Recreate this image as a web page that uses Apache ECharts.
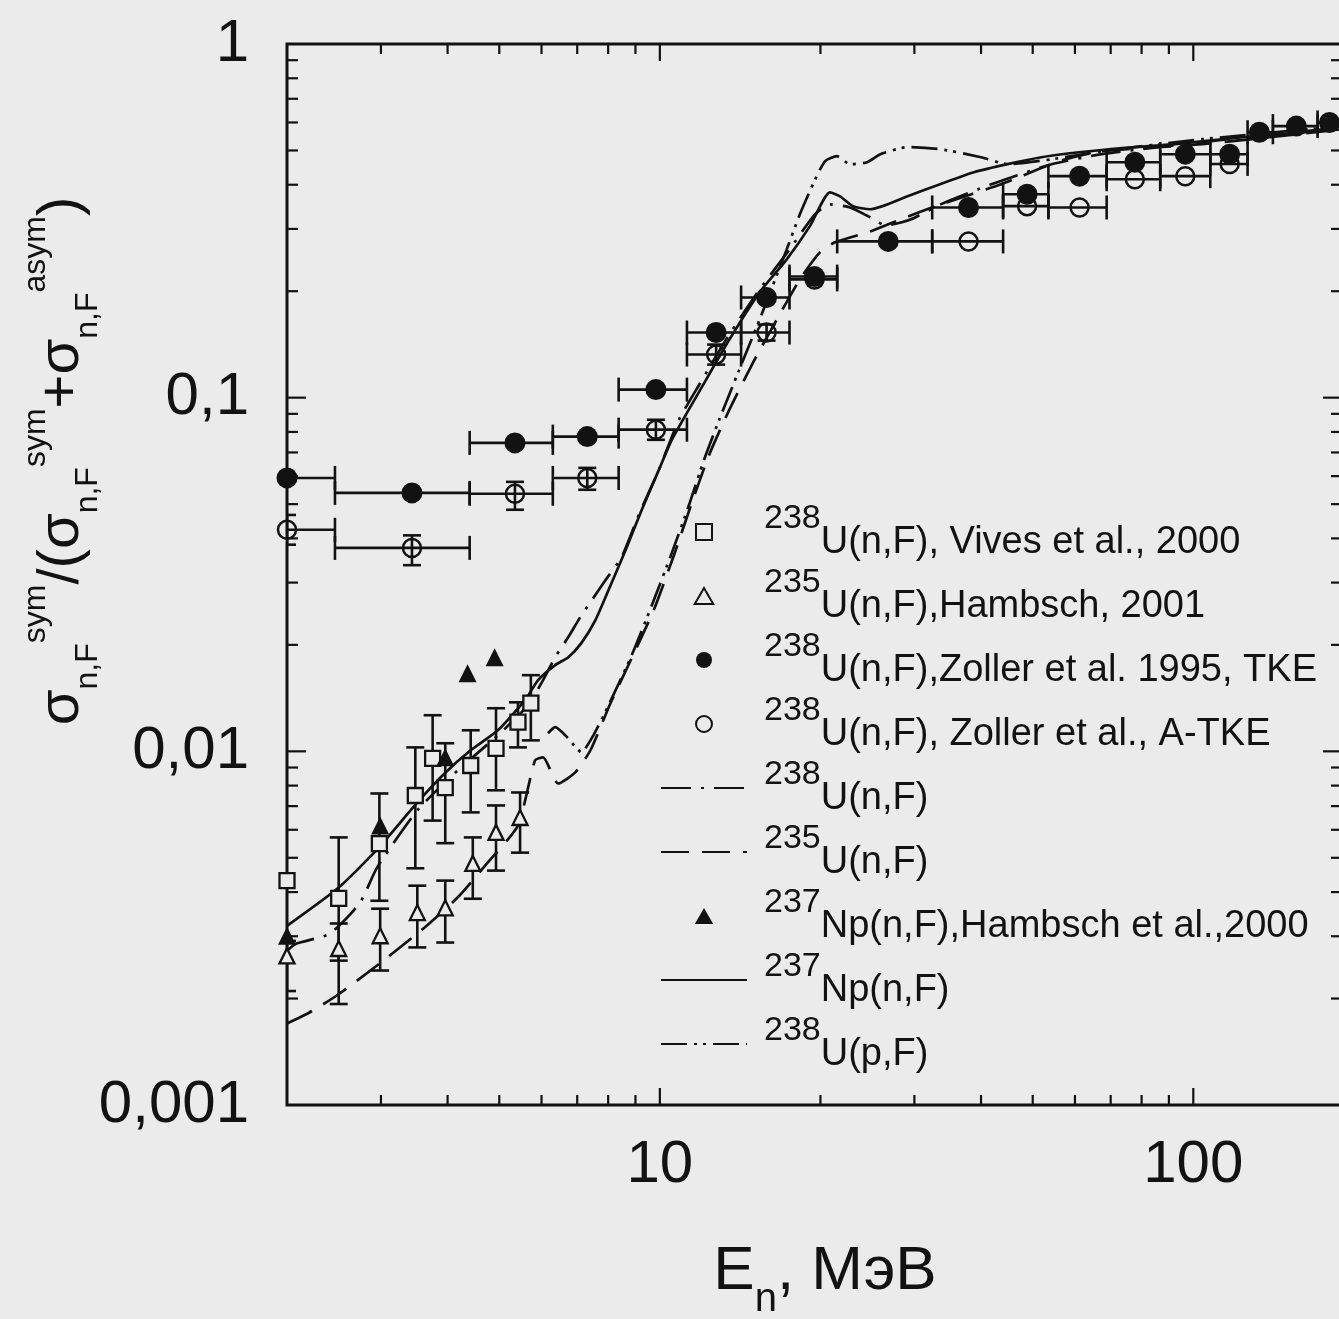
<!DOCTYPE html>
<html>
<head>
<meta charset="utf-8">
<script src="https://cdn.jsdelivr.net/npm/echarts@6/dist/echarts.min.js"></script>
<style>
html,body{margin:0;padding:0;background:#ebebeb;overflow:hidden;}
#chart{width:1345px;height:1319px;}
</style>
</head>
<body>
<div id="chart"></div>
<script>
// ---------------- axis ticks & labels ----------------
const xTickValues = [3,4,5,6,7,8,9,10,20,30,40,50,60,70,80,90,100];
const yTickValues = [0.002,0.003,0.004,0.005,0.006,0.007,0.008,0.009,0.01,
                     0.02,0.03,0.04,0.05,0.06,0.07,0.08,0.09,0.1,
                     0.2,0.3,0.4,0.5,0.6,0.7,0.8,0.9];
const xTickLabels = ['10','100'];                 // 10^1, 10^2
const yTickLabels = ['0,001','0,01','0,1','1'];   // 10^-3 .. 10^0

// ---------------- legend texts ----------------
const legendSup  = ['238','235','238','238','238','235','237','237','238'];
const legendMain = ['U(n,F), Vives et al., 2000',
                    'U(n,F),Hambsch, 2001',
                    'U(n,F),Zoller et al. 1995, TKE',
                    'U(n,F), Zoller et al., A-TKE',
                    'U(n,F)',
                    'U(n,F)',
                    'Np(n,F),Hambsch et al.,2000',
                    'Np(n,F)',
                    'U(p,F)'];

// ---------------- 238U(n,F) Vives et al. 2000 (open squares) ----------------
const vivesX   = [2.0, 2.5, 2.98, 3.48, 3.75, 3.96, 4.42, 4.93, 5.42, 5.73];
const vivesY   = [0.00431, 0.00384, 0.00548, 0.0075, 0.00955, 0.0079, 0.00912, 0.0102, 0.0121, 0.01368];
const vivesYLo = [null, 0.00256, 0.00378, 0.00467, 0.00637, 0.0055, 0.00672, 0.00776, 0.01026, 0.01074];
const vivesYHi = [null, 0.00571, 0.0076, 0.01026, 0.01265, 0.01054, 0.01147, 0.01324, 0.01376, 0.01642];

// ---------------- 235U(n,F) Hambsch 2001 (open triangles) ----------------
const hamb01X   = [2.0, 2.5, 2.99, 3.51, 3.96, 4.46, 4.93, 5.47];
const hamb01Y   = [0.00264, 0.00277, 0.00301, 0.0035, 0.00361, 0.00482, 0.0059, 0.0065];
const hamb01YLo = [0.0021, 0.00193, 0.0024, 0.00279, 0.00288, 0.00383, 0.0046, 0.00517];
const hamb01YHi = [0.00291, 0.00326, 0.00359, 0.00417, 0.00431, 0.00571, 0.00703, 0.00765];

// ---------------- 238U(n,F) Zoller 1995, TKE (filled circles) ----------------
const tkeX   = [2.0, 3.43, 5.35, 7.31, 9.83, 12.75, 15.85, 19.5, 26.8, 37.9, 48.8, 61.2, 77.7, 96.6, 117, 133, 156, 180];
const tkeY   = [0.0593, 0.0538, 0.0745, 0.0776, 0.1054, 0.1528, 0.192, 0.220, 0.2766, 0.345, 0.376, 0.423, 0.463, 0.488, 0.488, 0.563, 0.586, 0.60];
const tkeXLo = [1.6, 2.46, 4.40, 6.3, 8.37, 11.24, 14.2, 17.5, 21.5, 32.4, 44.0, 53.5, 68.8, 86.7, 107.6, 126.4, 141, 171];
const tkeXHi = [2.46, 4.40, 6.3, 8.37, 11.24, 14.2, 17.5, 21.5, 32.4, 44.0, 53.5, 68.8, 86.7, 107.6, 126.4, 141, 171, 200];

// ---------------- 238U(n,F) Zoller, A-TKE (open circles) ----------------
const atkeX   = [2.0, 3.43, 5.35, 7.31, 9.83, 12.75, 15.85, 19.5, 37.9, 48.8, 61.2, 77.7, 96.6, 117];
const atkeY   = [0.0423, 0.0376, 0.0535, 0.0593, 0.0812, 0.1324, 0.1528, 0.216, 0.2766, 0.348, 0.345, 0.4146, 0.423, 0.458];
const atkeXLo = [1.6, 2.46, 4.40, 6.3, 8.37, 11.24, 14.2, 17.5, 32.4, 44.0, 53.5, 68.8, 86.7, 107.6];
const atkeXHi = [2.46, 4.40, 6.3, 8.37, 11.24, 14.2, 17.5, 21.5, 44.0, 53.5, 68.8, 86.7, 107.6, 126.4];
const atkeYLo = [0.0384, 0.0336, 0.0482, 0.0549, 0.076, 0.124, 0.145, null, null, null, null, null, null, null];
const atkeYHi = [0.0466, 0.0408, 0.0578, 0.0633, 0.0866, 0.1413, 0.161, null, null, null, null, null, null, null];

// ---------------- 237Np(n,F) Hambsch et al. 2000 (filled triangles) ----------------
const np00X = [2.0, 2.99, 3.96, 4.36, 4.9];
const np00Y = [0.00301, 0.00617, 0.00962, 0.01663, 0.01846];

// ---------------- model curves ----------------
const u238nX = [2.0, 2.084, 2.405, 2.74, 2.95, 3.511, 4.176, 4.97, 5.66, 6.04, 6.365, 6.735, 7.096, 7.91, 8.48, 9.129, 9.957, 10.86, 11.85, 13.5, 15.38, 17.51, 19.53, 20.84, 22.73, 24.8, 26.46, 29.5, 33.6, 41.8, 54.2, 67.3, 104, 191];
const u238nY = [0.00273, 0.00286, 0.00305, 0.00373, 0.00469, 0.00681, 0.00883, 0.0111, 0.0135, 0.0159, 0.01846, 0.02104, 0.02397, 0.0305, 0.03545, 0.0466, 0.0625, 0.0866, 0.1088, 0.151, 0.2023, 0.2626, 0.33, 0.352, 0.345, 0.3235, 0.307, 0.319, 0.352, 0.401, 0.457, 0.488, 0.528, 0.582];

const u235nX = [2.0, 2.195, 2.48, 2.95, 3.618, 4.176, 4.758, 5.42, 5.834, 6.04, 6.448, 6.94, 7.41, 8.08, 8.855, 9.74, 10.63, 11.44, 12.37, 13.5, 15.05, 16.77, 18.3, 19.95, 21.29, 24.8, 28.24, 33.6, 43.6, 55.9, 67.3, 104, 191];
const u235nY = [0.0017, 0.00182, 0.00204, 0.00248, 0.00317, 0.00386, 0.00485, 0.00617, 0.00943, 0.00962, 0.00811, 0.00872, 0.01007, 0.01368, 0.01834, 0.0251, 0.0359, 0.0497, 0.0689, 0.0925, 0.1281, 0.1718, 0.216, 0.2575, 0.2749, 0.295, 0.319, 0.352, 0.401, 0.466, 0.4975, 0.521, 0.574];

const np237nX = [2.0, 2.5, 2.976, 3.511, 3.947, 4.419, 4.97, 5.587, 5.912, 6.365, 6.735, 7.125, 7.572, 8.013, 8.627, 9.25, 9.957, 10.53, 12.0, 13.5, 15.38, 17.29, 19.1, 20.84, 21.77, 23.03, 24.8, 29.12, 38.8, 51.9, 69.4, 92.5, 123.8, 191];
const np237nY = [0.00321, 0.00412, 0.00535, 0.00717, 0.00866, 0.01007, 0.01147, 0.01395, 0.0159, 0.01753, 0.01846, 0.02023, 0.0235, 0.02858, 0.0371, 0.0482, 0.0625, 0.076, 0.1074, 0.146, 0.1984, 0.246, 0.305, 0.3808, 0.371, 0.3476, 0.341, 0.371, 0.434, 0.4785, 0.504, 0.521, 0.545, 0.574];

const u238pX = [6.17, 6.365, 6.735, 7.125, 7.507, 8.013, 8.855, 9.66, 10.53, 11.34, 12.1, 12.92, 14.09, 15.38, 17.29, 18.3, 19.36, 20.39, 21.48, 22.73, 24.47, 25.9, 29.12, 33.6, 40.0, 44.97, 54.2, 67.3, 104, 191];
const u238pY = [0.01125, 0.0117, 0.01088, 0.00994, 0.0111, 0.0135, 0.0187, 0.0259, 0.0364, 0.0497, 0.0667, 0.0866, 0.12, 0.1663, 0.2626, 0.33, 0.401, 0.466, 0.4816, 0.457, 0.463, 0.488, 0.511, 0.504, 0.4785, 0.457, 0.472, 0.4975, 0.538, 0.586];

// ---------------- helpers ----------------
const FONT = '"Liberation Sans", Arial, Helvetica, sans-serif';
const INK = '#121212';
const BG = '#ebebeb';

function pairs(xs, ys) { return xs.map((x, i) => [x, ys[i]]); }
function pick(a, i) { return (a && a[i] != null) ? a[i] : NaN; }
function rows(xs, ys, xlo, xhi, ylo, yhi) {
  return xs.map((x, i) => [x, ys[i], pick(xlo, i), pick(xhi, i), pick(ylo, i), pick(yhi, i)]);
}
const seriesNames = legendSup.map((s, i) => s + legendMain[i]);

function errorBarSeries(id, data, capW, capH) {
  return {
    type: 'custom', name: id, data: data, clip: true, z: 2, silent: true,
    dimensions: ['x', 'y', 'xlo', 'xhi', 'ylo', 'yhi'],
    encode: { x: 0, y: 1 },
    renderItem: function (params, api) {
      const x = api.value(0), y = api.value(1);
      const xlo = api.value(2), xhi = api.value(3), ylo = api.value(4), yhi = api.value(5);
      const c = api.coord([x, y]);
      const st = { stroke: INK, lineWidth: 2.6, fill: null };
      const ch = [];
      if (isFinite(xlo) && isFinite(xhi)) {
        const a = api.coord([xlo, y])[0], b = api.coord([xhi, y])[0];
        ch.push({ type: 'line', shape: { x1: a, y1: c[1], x2: b, y2: c[1] }, style: st });
        ch.push({ type: 'line', shape: { x1: a, y1: c[1] - capH, x2: a, y2: c[1] + capH }, style: st });
        ch.push({ type: 'line', shape: { x1: b, y1: c[1] - capH, x2: b, y2: c[1] + capH }, style: st });
      }
      if (isFinite(ylo) && isFinite(yhi)) {
        const a = api.coord([x, ylo])[1], b = api.coord([x, yhi])[1];
        ch.push({ type: 'line', shape: { x1: c[0], y1: a, x2: c[0], y2: b }, style: st });
        ch.push({ type: 'line', shape: { x1: c[0] - capW, y1: a, x2: c[0] + capW, y2: a }, style: st });
        ch.push({ type: 'line', shape: { x1: c[0] - capW, y1: b, x2: c[0] + capW, y2: b }, style: st });
      }
      return { type: 'group', children: ch };
    }
  };
}

function isMajor(v) { const l = Math.log10(v); return Math.abs(l - Math.round(l)) < 1e-6; }

const xTickSeries = {
  type: 'custom', name: 'xticks', silent: true, z: 5, clip: false,
  data: xTickValues.map(v => [v, 0.1]),
  renderItem: function (params, api) {
    const v = api.value(0);
    const cs = params.coordSys;
    const px = api.coord([v, 0.1])[0];
    const L = isMajor(v) ? 17 : 10;
    const st = { stroke: INK, lineWidth: 2.2 };
    return { type: 'group', children: [
      { type: 'line', shape: { x1: px, y1: cs.y + cs.height, x2: px, y2: cs.y + cs.height - L }, style: st },
      { type: 'line', shape: { x1: px, y1: cs.y, x2: px, y2: cs.y + L }, style: st }
    ] };
  }
};
const yTickSeries = {
  type: 'custom', name: 'yticks', silent: true, z: 5, clip: false,
  data: yTickValues.map(v => [10, v]),
  renderItem: function (params, api) {
    const v = api.value(1);
    const cs = params.coordSys;
    const py = api.coord([10, v])[1];
    const L = isMajor(v) ? 19 : 11;
    const st = { stroke: INK, lineWidth: 2.2 };
    return { type: 'group', children: [
      { type: 'line', shape: { x1: cs.x, y1: py, x2: cs.x + L, y2: py }, style: st },
      { type: 'line', shape: { x1: cs.x + cs.width, y1: py, x2: cs.x + cs.width - L, y2: py }, style: st }
    ] };
  }
};

function lineSeries(idx, xs, ys, dash) {
  return {
    type: 'line', name: seriesNames[idx], data: pairs(xs, ys),
    showSymbol: false, symbol: 'none', smooth: 0.2, z: 3,
    lineStyle: { color: INK, width: 2.7, type: dash },
    itemStyle: { color: INK }
  };
}

const hideSym = { color: 'rgba(0,0,0,0)', borderWidth: 0, opacity: 0 };
const legendData = [
  { name: seriesNames[0], icon: 'path://M0,0H10V10H0Z' },
  { name: seriesNames[1], icon: 'path://M5,0L10,8.66L0,8.66Z' },
  { name: seriesNames[2] },
  { name: seriesNames[3] },
  { name: seriesNames[4], itemStyle: hideSym },
  { name: seriesNames[5], itemStyle: hideSym },
  { name: seriesNames[6], icon: 'path://M5,0L10,8.66L0,8.66Z' },
  { name: seriesNames[7], itemStyle: hideSym },
  { name: seriesNames[8], itemStyle: hideSym }
];

const option = {
  backgroundColor: BG,
  animation: false,
  textStyle: { fontFamily: FONT, color: INK },
  grid: { left: 287, top: 44, right: 1, bottom: 214, show: true, borderColor: INK, borderWidth: 3, backgroundColor: 'transparent' },
  xAxis: {
    type: 'log', logBase: 10, min: 2, max: 190,
    axisLine: { show: false }, axisTick: { show: false }, splitLine: { show: false },
    axisLabel: {
      fontSize: 60, color: INK, fontFamily: FONT, margin: 30,
      formatter: function (v) {
        if (!isMajor(v)) return '';
        const e = Math.round(Math.log10(v));
        return xTickLabels[e - 1] || '';
      }
    }
  },
  yAxis: {
    type: 'log', logBase: 10, min: 0.001, max: 1,
    axisLine: { show: false }, axisTick: { show: false }, splitLine: { show: false },
    axisLabel: {
      fontSize: 60, color: INK, fontFamily: FONT, margin: 38,
      formatter: function (v) {
        if (!isMajor(v)) return '';
        const e = Math.round(Math.log10(v));
        return yTickLabels[e + 3] || '';
      }
    }
  },
  legend: {
    data: legendData, orient: 'vertical', left: 655, top: 497,
    itemWidth: 86, itemHeight: 16, itemGap: 4, selectedMode: false,
    symbolKeepAspect: true,
    formatter: function (name) {
      const i = seriesNames.indexOf(name);
      return '{sup|' + legendSup[i] + '}{main|' + legendMain[i] + '}';
    },
    textStyle: {
      color: INK, fontFamily: FONT,
      rich: {
        sup: { fontSize: 34, lineHeight: 34, verticalAlign: 'top', padding: [0, 0, 0, 12], fontFamily: FONT, color: INK },
        main: { fontSize: 38, lineHeight: 60, verticalAlign: 'bottom', fontFamily: FONT, color: INK }
      }
    }
  },
  graphic: [
    {
      type: 'text', x: 62, y: 461, rotation: Math.PI / 2, silent: true,
      style: {
        text: '{m|σ}{sub|n,F}{sup|sym}{m|/(σ}{sub|n,F}{sup|sym}{m|+σ}{sub|n,F}{sup|asym}{m|)}',
        align: 'center', verticalAlign: 'middle', fill: INK, fontFamily: FONT,
        rich: {
          m: { fontSize: 58, lineHeight: 84, verticalAlign: 'middle', fontFamily: FONT, fill: INK },
          sub: { fontSize: 32, lineHeight: 34, verticalAlign: 'bottom', fontFamily: FONT, fill: INK },
          sup: { fontSize: 32, lineHeight: 34, verticalAlign: 'top', fontFamily: FONT, fill: INK }
        }
      }
    },
    {
      type: 'text', x: 825, y: 1272, silent: true,
      style: {
        text: '{m|E}{s|n}{m|, МэВ}',
        align: 'center', verticalAlign: 'middle', fill: INK, fontFamily: FONT,
        rich: {
          m: { fontSize: 62, lineHeight: 96, verticalAlign: 'middle', fontFamily: FONT, fill: INK },
          s: { fontSize: 40, lineHeight: 40, verticalAlign: 'bottom', fontFamily: FONT, fill: INK }
        }
      }
    }
  ],
  series: [
    // error bars
    errorBarSeries('err-vives', rows(vivesX, vivesY, null, null, vivesYLo, vivesYHi), 9, 0),
    errorBarSeries('err-hamb01', rows(hamb01X, hamb01Y, null, null, hamb01YLo, hamb01YHi), 9, 0),
    errorBarSeries('err-tke', rows(tkeX, tkeY, tkeXLo, tkeXHi, null, null), 0, 12),
    errorBarSeries('err-atke', rows(atkeX, atkeY, atkeXLo, atkeXHi, atkeYLo, atkeYHi), 9, 12),
    // data points
    { type: 'scatter', name: seriesNames[0], data: pairs(vivesX, vivesY), symbol: 'rect', symbolSize: 15, z: 4,
      itemStyle: { color: BG, borderColor: INK, borderWidth: 2.3, opacity: 1 } },
    { type: 'scatter', name: seriesNames[1], data: pairs(hamb01X, hamb01Y), symbol: 'triangle', symbolSize: 15, z: 4,
      itemStyle: { color: BG, borderColor: INK, borderWidth: 2.3, opacity: 1 } },
    { type: 'scatter', name: seriesNames[2], data: pairs(tkeX, tkeY), symbol: 'circle', symbolSize: 21, z: 4,
      itemStyle: { color: INK, opacity: 1 } },
    { type: 'scatter', name: seriesNames[3], data: pairs(atkeX, atkeY), symbol: 'circle', symbolSize: 18, z: 4,
      itemStyle: { color: 'rgba(0,0,0,0)', borderColor: INK, borderWidth: 2.5, opacity: 1 } },
    lineSeries(4, u238nX, u238nY, [30, 10, 3, 10]),
    lineSeries(5, u235nX, u235nY, [28, 13]),
    { type: 'scatter', name: seriesNames[6], data: pairs(np00X, np00Y), symbol: 'triangle', symbolSize: 18, z: 4,
      itemStyle: { color: INK, opacity: 1 } },
    lineSeries(7, np237nX, np237nY, 'solid'),
    lineSeries(8, u238pX, u238pY, [26, 7, 3, 6, 3, 7]),
    xTickSeries,
    yTickSeries
  ]
};

const chart = echarts.init(document.getElementById('chart'));
chart.setOption(option);
</script>
</body>
</html>
